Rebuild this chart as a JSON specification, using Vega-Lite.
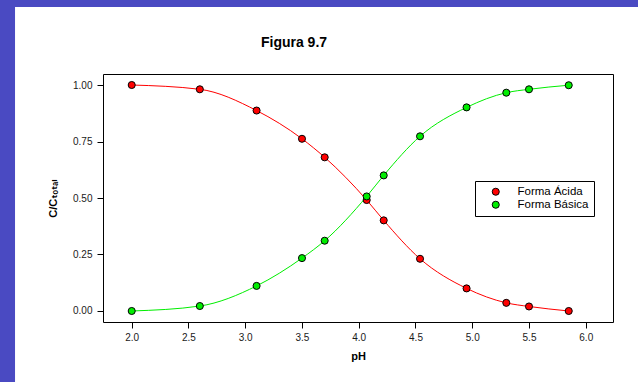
{
  "$schema": "https://vega.github.io/schema/vega-lite/v6.json",
  "width": 510,
  "height": 248,
  "autosize": "none",
  "padding": {"left": 103, "top": 74, "right": 25, "bottom": 60},
  "background": "white",
  "title": {
    "text": "Figura 9.7",
    "font": "Liberation Sans",
    "fontSize": 14,
    "fontWeight": "bold",
    "color": "black",
    "anchor": "middle",
    "frame": "group",
    "dx": -64,
    "offset": -51
  },
  "config": {
    "view": {"stroke": "black", "strokeWidth": 1, "fill": "white"},
    "font": "Liberation Sans",
    "axis": {
      "domain": false,
      "grid": false,
      "tickColor": "black",
      "tickSize": 6,
      "tickWidth": 1,
      "labelFont": "Liberation Sans",
      "labelFontSize": 10,
      "labelColor": "#1a1a1a",
      "titleFont": "Liberation Sans, DejaVu Sans",
      "titleFontSize": 11,
      "titleFontWeight": "bold",
      "titleColor": "black"
    },
    "legend": {
      "orient": "none",
      "legendX": 372,
      "legendY": 107,
      "strokeColor": "black",
      "fillColor": "white",
      "padding": 5,
      "symbolOffset": 10,
      "labelOffset": 16,
      "rowPadding": 0,
      "labelFont": "Liberation Sans",
      "labelFontSize": 11.5,
      "labelColor": "black",
      "symbolType": "circle",
      "symbolSize": 50,
      "symbolStrokeColor": "black",
      "symbolStrokeWidth": 1
    }
  },
  "datasets": {
    "curves": [
      {"pH": 2.0, "frac": 1.000, "forma": "Forma Ácida"},
      {"pH": 2.6, "frac": 0.981, "forma": "Forma Ácida"},
      {"pH": 3.1, "frac": 0.887, "forma": "Forma Ácida"},
      {"pH": 3.5, "frac": 0.762, "forma": "Forma Ácida"},
      {"pH": 3.7, "frac": 0.680, "forma": "Forma Ácida"},
      {"pH": 4.07, "frac": 0.491, "forma": "Forma Ácida"},
      {"pH": 4.22, "frac": 0.401, "forma": "Forma Ácida"},
      {"pH": 4.54, "frac": 0.231, "forma": "Forma Ácida"},
      {"pH": 4.95, "frac": 0.100, "forma": "Forma Ácida"},
      {"pH": 5.3, "frac": 0.036, "forma": "Forma Ácida"},
      {"pH": 5.5, "frac": 0.020, "forma": "Forma Ácida"},
      {"pH": 5.85, "frac": 0.000, "forma": "Forma Ácida"},
      {"pH": 2.0, "frac": 0.000, "forma": "Forma Básica"},
      {"pH": 2.6, "frac": 0.022, "forma": "Forma Básica"},
      {"pH": 3.1, "frac": 0.111, "forma": "Forma Básica"},
      {"pH": 3.5, "frac": 0.234, "forma": "Forma Básica"},
      {"pH": 3.7, "frac": 0.311, "forma": "Forma Básica"},
      {"pH": 4.07, "frac": 0.507, "forma": "Forma Básica"},
      {"pH": 4.22, "frac": 0.600, "forma": "Forma Básica"},
      {"pH": 4.54, "frac": 0.773, "forma": "Forma Básica"},
      {"pH": 4.95, "frac": 0.901, "forma": "Forma Básica"},
      {"pH": 5.3, "frac": 0.966, "forma": "Forma Básica"},
      {"pH": 5.5, "frac": 0.981, "forma": "Forma Básica"},
      {"pH": 5.85, "frac": 0.999, "forma": "Forma Básica"}
    ]
  },
  "layer": [
    {
      "data": {"values": [{}]},
      "mark": {"type": "rect", "fill": "#4a4ac2", "clip": false},
      "encoding": {
        "x": {"datum": 0.5, "type": "quantitative"},
        "x2": {"datum": 0.972},
        "y": {"datum": -0.6, "type": "quantitative"},
        "y2": {"datum": 1.38}
      }
    },
    {
      "data": {"values": [{}]},
      "mark": {"type": "rect", "fill": "#4a4ac2", "clip": false},
      "encoding": {
        "x": {"datum": 0.5, "type": "quantitative"},
        "x2": {"datum": 7.0},
        "y": {"datum": 1.345, "type": "quantitative"},
        "y2": {"datum": 1.38}
      }
    },
    {
      "data": {"name": "curves"},
      "mark": {"type": "line", "interpolate": "monotone", "strokeWidth": 1},
      "encoding": {
        "x": {
          "field": "pH",
          "type": "quantitative",
          "scale": {"domain": [1.747, 6.24], "nice": false, "zero": false},
          "axis": {
            "values": [2, 2.5, 3, 3.5, 4, 4.5, 5, 5.5, 6],
            "format": ".1f",
            "labelPadding": 4,
            "title": "pH",
            "titlePadding": 8
          }
        },
        "y": {
          "field": "frac",
          "type": "quantitative",
          "scale": {"domain": [-0.0487, 1.0487], "nice": false, "zero": false},
          "axis": {
            "values": [0, 0.25, 0.5, 0.75, 1],
            "format": ".2f",
            "labelPadding": 5,
            "title": "C/Cₜₒₜₐₗ",
            "titleAngle": -90,
            "titleX": -50,
            "titleY": 124,
            "titleBaseline": "middle",
            "titleAlign": "center"
          }
        },
        "color": {
          "field": "forma",
          "type": "nominal",
          "scale": {"domain": ["Forma Ácida", "Forma Básica"], "range": ["#ff0000", "#00ee00"]},
          "legend": null
        }
      }
    },
    {
      "data": {"name": "curves"},
      "mark": {"type": "point", "filled": true, "size": 50, "stroke": "black", "strokeWidth": 1, "opacity": 1},
      "encoding": {
        "x": {"field": "pH", "type": "quantitative"},
        "y": {"field": "frac", "type": "quantitative"},
        "color": {
          "field": "forma",
          "type": "nominal",
          "legend": {"title": null, "symbolType": "circle"}
        }
      }
    }
  ],
  "resolve": {"legend": {"color": "independent"}}
}
